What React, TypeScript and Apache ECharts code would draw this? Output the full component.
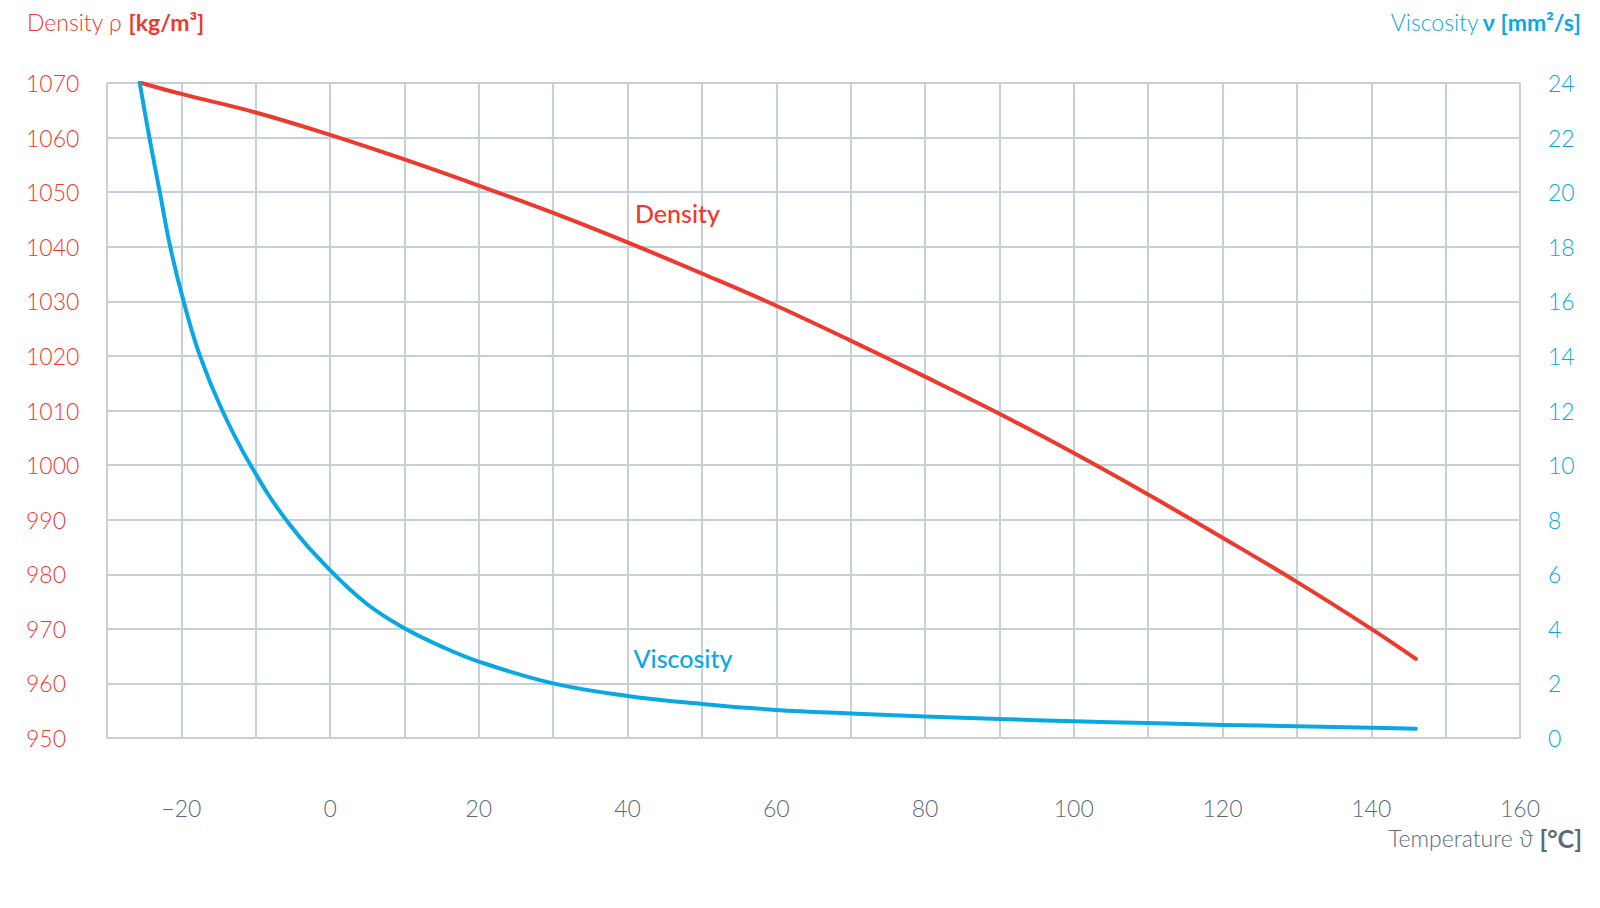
import React, { useEffect, useRef } from "react";
import * as echarts from "echarts";

const densityTemps = [-25.6, -20, -10, 0, 10, 20, 30, 40, 50, 60, 70, 80, 90, 100, 110, 120, 130, 140, 146];
const densityValues = [1070.1, 1068.0, 1064.6, 1060.5, 1056.0, 1051.2, 1046.2, 1040.8, 1035.1, 1029.2, 1022.8, 1016.2, 1009.4, 1002.2, 994.6, 986.7, 978.6, 970.0, 964.5];

const viscTemps = [-25.6, -24.3, -22.9, -21.5, -19.7, -17.5, -14.5, -10.7, -5.8, 0, 5, 10, 15, 20, 30, 40, 50, 60, 70, 80, 90, 100, 110, 120, 130, 140, 146];
const viscValues = [24.0, 22.0, 20.0, 18.0, 16.0, 14.0, 12.0, 10.0, 7.95, 6.15, 4.9, 4.02, 3.35, 2.8, 2.0, 1.54, 1.25, 1.03, 0.9, 0.79, 0.7, 0.61, 0.55, 0.48, 0.43, 0.38, 0.34];

const densityLabelAt = [41, 1046.2];
const viscLabelAt = [40.8, 2.93];

const RED = "#ec3a2f";
const BLUE = "#0aa8e3";
const GRAY = "#5a6b78";
const GRID = "#c7d0d7";
const FONT = "Lato, 'Noto Sans', sans-serif";

export default function App() {
  const ref = useRef<HTMLDivElement>(null);
  useEffect(() => {
    if (!ref.current) return;
    const chart = echarts.init(ref.current, undefined, { renderer: "svg" });
    const option: any = {
      animation: false,
      backgroundColor: "#ffffff",
      textStyle: { fontFamily: FONT },
      grid: { left: 107, right: 80, top: 83, bottom: 170 },
      xAxis: {
        type: "value",
        min: -30,
        max: 160,
        interval: 10,
        axisLine: { show: true, lineStyle: { color: GRID, width: 2 } },
        axisTick: { show: false },
        splitLine: { show: true, lineStyle: { color: GRID, width: 2 } },
        axisLabel: {
          color: GRAY,
          fontSize: 23,
          fontWeight: 300,
          fontFamily: FONT,
          margin: 58,
          showMinLabel: true,
          formatter: (v: number) =>
            v % 20 === 0 ? (v < 0 ? "\u2212" + Math.abs(v) : String(v)) : "",
        },
      },
      yAxis: [
        {
          type: "value",
          min: 950,
          max: 1070,
          interval: 10,
          position: "left",
          axisLine: { show: true, lineStyle: { color: GRID, width: 2 } },
          axisTick: { show: false },
          splitLine: { show: true, lineStyle: { color: GRID, width: 2 } },
          axisLabel: {
            color: RED,
            fontSize: 23,
            fontWeight: 300,
            fontFamily: FONT,
            margin: 81,
            align: "left",
            formatter: (v: number) => String(v),
          },
        },
        {
          type: "value",
          min: 0,
          max: 24,
          interval: 2,
          position: "right",
          axisLine: { show: true, lineStyle: { color: GRID, width: 2 } },
          axisTick: { show: false },
          splitLine: { show: false },
          axisLabel: {
            color: BLUE,
            fontSize: 23,
            fontWeight: 300,
            fontFamily: FONT,
            margin: 28,
            align: "left",
            formatter: (v: number) => String(v),
          },
        },
      ],
      series: [
        {
          name: "Density",
          type: "line",
          yAxisIndex: 0,
          data: densityTemps.map((t, i) => [t, densityValues[i]]),
          smooth: 0.4,
          showSymbol: false,
          symbol: "none",
          lineStyle: { color: RED, width: 4, cap: "round", join: "round" },
          markPoint: {
            symbol: "circle",
            symbolSize: 0,
            data: [
              {
                coord: densityLabelAt,
                label: {
                  show: true,
                  formatter: "Density",
                  position: "right",
                  distance: 0,
                  color: RED,
                  fontSize: 25,
                  fontWeight: 500,
                  fontFamily: FONT,
                },
              },
            ],
          },
        },
        {
          name: "Viscosity",
          type: "line",
          yAxisIndex: 1,
          data: viscTemps.map((t, i) => [t, viscValues[i]]),
          smooth: 0.4,
          showSymbol: false,
          symbol: "none",
          lineStyle: { color: BLUE, width: 4, cap: "round", join: "round" },
          markPoint: {
            symbol: "circle",
            symbolSize: 0,
            data: [
              {
                coord: viscLabelAt,
                label: {
                  show: true,
                  formatter: "Viscosity",
                  position: "right",
                  distance: 0,
                  color: BLUE,
                  fontSize: 25,
                  fontWeight: 500,
                  fontFamily: FONT,
                },
              },
            ],
          },
        },
      ],
      graphic: [
        {
          type: "text",
          x: 27,
          y: 22,
          style: {
            text: "{a|Density ρ }{b|[kg/m³]}",
            verticalAlign: "middle",
            align: "left",
            rich: {
              a: { fill: RED, fontSize: 23, fontWeight: 300, fontFamily: FONT },
              b: { fill: RED, fontSize: 23, fontWeight: "bold", fontFamily: FONT },
            },
          },
        },
        {
          type: "text",
          x: 1581,
          y: 22,
          style: {
            text: "{a|Viscosity }{b|ν [mm²/s]}",
            verticalAlign: "middle",
            align: "right",
            rich: {
              a: { fill: BLUE, fontSize: 23, fontWeight: 300, fontFamily: FONT },
              b: { fill: BLUE, fontSize: 23, fontWeight: "bold", fontFamily: FONT },
            },
          },
        },
        {
          type: "text",
          x: 1582,
          y: 838,
          style: {
            text: "{a|Temperature ϑ }{b|[°C]}",
            verticalAlign: "middle",
            align: "right",
            rich: {
              a: { fill: GRAY, fontSize: 23, fontWeight: 300, fontFamily: FONT },
              b: { fill: GRAY, fontSize: 25, fontWeight: "bold", fontFamily: FONT },
            },
          },
        },
      ],
    };
    chart.setOption(option);
    return () => chart.dispose();
  }, []);
  return (
    <div
      ref={ref}
      style={{ position: "fixed", left: 0, top: 0, width: 1600, height: 908, background: "#fff" }}
    />
  );
}
